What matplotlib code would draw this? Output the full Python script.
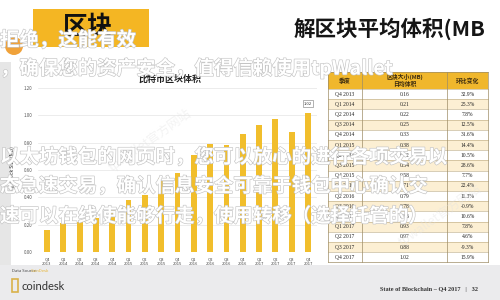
import matplotlib
matplotlib.use("Agg")
import matplotlib.pyplot as plt
import matplotlib.patheffects as pe
from matplotlib.patches import Rectangle, Circle

plt.rcParams['font.family'] = ['Noto Sans CJK SC', 'DejaVu Sans']

# data
quarters = ["Q4 2013", "Q1 2014", "Q2 2014", "Q3 2014", "Q4 2014", "Q1 2015",
            "Q2 2015", "Q3 2015", "Q4 2015", "Q1 2016", "Q2 2016", "Q3 2016",
            "Q4 2016", "Q1 2017", "Q2 2017", "Q3 2017", "Q4 2017"]
block_size = [0.16, 0.21, 0.22, 0.25, 0.33, 0.38, 0.42, 0.54, 0.58, 0.71,
              0.79, 0.78, 0.86, 0.93, 0.97, 0.88, 1.02]
change = ["32.9%", "25.3%", "7.8%", "12.5%", "31.6%", "14.4%", "10.5%", "28.6%",
          "7.7%", "22.4%", "11.3%", "-0.9%", "10.6%", "7.8%", "4.6%", "-9.3%", "15.9%"]
y_ticks = [0.0, 0.2, 0.4, 0.6, 0.8, 1.0, 1.2]
table_header = ["季度", "区块大小(MB)\n日均体积", "环比变化"]

watermarks = [
    (0, 40, "拒绝，这能有效"),
    (0, 68, "，确保您的资产安全，值得信赖使用tpWallet"),
    (0, 157, "以太坊钱包的网页时，您可以放心的进行各项交易以"),
    (0, 186, "态急速交易，确认信息安全可靠于钱包中心确认交"),
    (0, 216, "速可以在线使能够行走，使用转移（选择托管的）"),
]

fig = plt.figure(figsize=(5, 3), dpi=100)
fig.patch.set_facecolor("white")

bg = fig.add_axes([0, 0, 1, 1])
bg.set_xlim(0, 500)
bg.set_ylim(300, 0)
bg.axis("off")

# slide decorations
bg.add_patch(Rectangle((0, 265), 500, 35, color="#ebebed", lw=0))
bg.add_patch(Rectangle((0, 62), 11, 203, color="#e6e6e6", lw=0))
bg.add_patch(Rectangle((33, 9), 116, 38, color="#f4b623", lw=0))
bg.add_patch(Circle((14, 46), 9, color="#f0a23a", lw=0))
bg.text(88, 27, "区块", fontsize=18, fontweight="bold", color="#111111",
        ha="center", va="center")
bg.text(390, 29, "解区块平均体积(MB", fontsize=15.5, fontweight="bold",
        color="#151515", ha="center", va="center")
bg.text(170, 79, "比特币区块体积", fontsize=6.5, fontweight="bold",
        color="#222222", ha="center", va="center")

# footer
bg.text(12, 271, "Data Source: ", fontsize=3, color="#444444", va="center")
bg.text(31, 271, "CoinDesk", fontsize=3, color="#e8b63a", va="center")
bg.add_patch(Rectangle((12, 279), 6, 13, fill=False, ec="#d9b24a", lw=1.2))
bg.text(22, 286, "coindesk", fontsize=8, color="#333333", va="center",
        family=["Lato", "DejaVu Sans"])
bg.text(478, 290, "State of Blockchain – Q4 2017   |   32", fontsize=4.5,
        fontweight="bold", color="#333333", ha="right", va="center",
        family=["Liberation Serif", "DejaVu Serif"])

# table
tx = [328, 362, 447, 488]
head_top, head_bot, row_h = 72, 89, 10.2
bg.add_patch(Rectangle((tx[0], head_top), tx[-1] - tx[0], head_bot - head_top,
                       color="#f0b72c", lw=0))
for j, h in enumerate(table_header):
    bg.text((tx[j] + tx[j + 1]) / 2, (head_top + head_bot) / 2, h, fontsize=4.2,
            fontweight="bold", color="#3a2a10", ha="center", va="center",
            linespacing=1.1)
for i, q in enumerate(quarters):
    y0 = head_bot + i * row_h
    bg.add_patch(Rectangle((tx[0], y0), tx[-1] - tx[0], row_h,
                           color="#fcefd3" if i % 2 else "white", lw=0))
    bg.plot([tx[0], tx[-1]], [y0, y0], color="#b9a77e", lw=0.4)
    for j, v in enumerate([q, f"{block_size[i]:.2f}", change[i]]):
        bg.text((tx[j] + tx[j + 1]) / 2, y0 + row_h / 2, v, fontsize=4,
                color="#222222", ha="center", va="center",
                family=["Liberation Serif", "DejaVu Serif"])
tbot = head_bot + len(quarters) * row_h
for x in tx:
    bg.plot([x, x], [head_top, tbot], color="#9e8d66", lw=0.5)
bg.plot([tx[0], tx[-1]], [head_top, head_top], color="#9e8d66", lw=0.5)
bg.plot([tx[0], tx[-1]], [tbot, tbot], color="#9e8d66", lw=0.5)

# bar chart
ax = fig.add_axes([38 / 500, 48 / 300, 279 / 500, 164 / 300])
ax.patch.set_alpha(0)
xs = list(range(len(quarters)))
ax.bar(xs, block_size, width=0.36, color="#f1be2c", zorder=3)
ax.set_xlim(-0.55, 16.55)
ax.set_ylim(0, 1.2)
ax.set_yticks(y_ticks)
ax.set_yticklabels([f"{v:.2f}" for v in y_ticks], fontsize=3.2, color="#555555")
ax.set_xticks(xs)
ax.set_xticklabels([q.replace(" ", "\n") for q in quarters], fontsize=3,
                   color="#444444", linespacing=1.2)
ax.tick_params(length=0, pad=4)
ax.grid(axis="y", color="#e4e4e4", lw=0.5, zorder=0)
for s in ax.spines.values():
    s.set_visible(False)
ax.set_ylabel("Avg. Block Size (MB)", fontsize=3.6, color="#333333", labelpad=6)
ax.annotate(f"{block_size[-1]:.2f}", (16, block_size[-1]), xytext=(0, 5),
            textcoords="offset points", ha="center", va="bottom", fontsize=3,
            color="#333333",
            bbox=dict(boxstyle="square,pad=0.3", fc="white", ec="#777777", lw=0.4))

# watermark overlay
ov = fig.add_axes([0, 0, 1, 1], zorder=10)
ov.set_xlim(0, 500)
ov.set_ylim(300, 0)
ov.axis("off")
ov.patch.set_alpha(0)
ov.text(150, 140, "tpwallet官方网站", fontsize=9, color="#e2e2e2", alpha=0.4,
        rotation=35, ha="center", va="center")
ov.text(440, 215, "tpwallet官方网站", fontsize=9, color="#e2e2e2", alpha=0.4,
        rotation=35, ha="center", va="center")
stroke = [pe.withStroke(linewidth=0.9, foreground="#c4c4c4")]
for x, y, t in watermarks:
    ov.text(x, y, t, fontsize=14, color="white", va="center", ha="left",
            fontweight="bold", path_effects=stroke)

fig.savefig("out.png", dpi=100)
